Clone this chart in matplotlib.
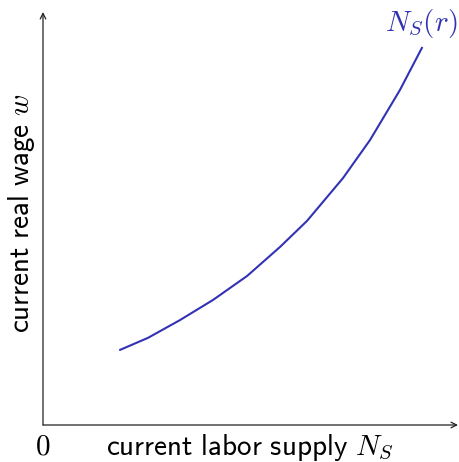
import matplotlib.pyplot as plt

plt.rcParams["mathtext.fontset"] = "cm"
plt.rcParams["font.family"] = ["DejaVu Sans"]

# labor supply curve N_S(r) (axis units 0..10)
labor = [1.86, 2.53, 3.30, 4.10, 4.92, 5.71, 6.36, 7.23, 7.88, 8.60, 9.13]
wage = [1.82, 2.11, 2.54, 3.03, 3.61, 4.31, 4.94, 5.98, 6.90, 8.11, 9.13]

curve_color = "#3232b4"
fs = 21

fig = plt.figure(figsize=(4.59, 4.62), dpi=100)
ax = fig.add_axes([43 / 459, (462 - 425) / 462, 415 / 459, 413 / 462])
ax.set_xlim(0, 10)
ax.set_ylim(0, 10)
ax.axis("off")

# axes with arrow heads
arrow = dict(arrowstyle="->", color="#222222", lw=0.9, shrinkA=0, shrinkB=0)
ax.annotate("", xy=(10, 0), xytext=(0, 0), arrowprops=arrow, annotation_clip=False)
ax.annotate("", xy=(0, 10), xytext=(0, 0), arrowprops=arrow, annotation_clip=False)

ax.plot(labor, wage, color=curve_color, lw=1.5, solid_joinstyle="round")

ax.text(9.98, 9.55, r"$N_S(r)$", color=curve_color, fontsize=fs,
        ha="right", va="baseline", clip_on=False)
ax.text(0, -0.72, r"$0$", fontsize=fs, ha="center", va="baseline", clip_on=False)
ax.text(4.99, -0.72, r"$\mathsf{current\ labor\ supply}\ N_S$", fontsize=fs,
        ha="center", va="baseline", clip_on=False)
ax.text(-0.51, 5.13, r"$\mathsf{current\ real\ wage}\ w$", fontsize=fs, rotation=90,
        ha="center", va="center", clip_on=False)

fig.savefig("out.png", dpi=100)
